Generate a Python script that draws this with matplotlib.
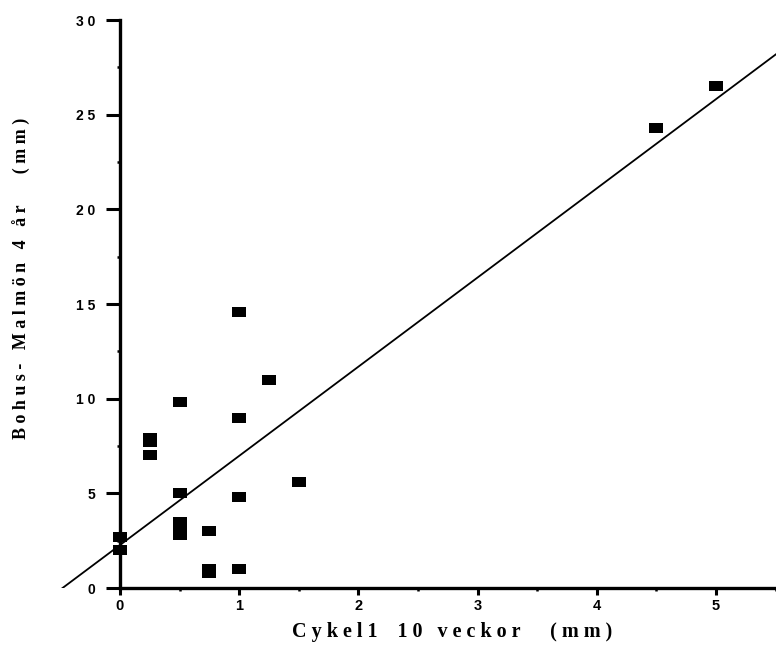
import matplotlib
matplotlib.use("Agg")
import matplotlib.pyplot as plt
import numpy as np
from matplotlib.ticker import FixedLocator

# ---- data ----
cykel_x = [0, 0, 0.25, 0.25, 0.25, 0.5, 0.5, 0.5, 0.5, 0.5, 0.75, 0.75, 0.75,
           1.0, 1.0, 1.0, 1.0, 1.25, 1.5, 4.5, 5.0]
bohus_y = [2.7, 2.0, 7.9, 7.7, 7.0, 9.8, 5.0, 3.5, 3.1, 2.8, 3.0, 1.0, 0.8,
           14.6, 9.0, 4.8, 1.0, 11.0, 5.6, 24.3, 26.5]
reg_slope = 4.71
reg_intercept = 2.27
x_ticks = [0, 1, 2, 3, 4, 5]
x_ticklabels = ["0", "1", "2", "3", "4", "5"]
x_minor = [0.5, 1.5, 2.5, 3.5, 4.5, 5.5]
y_ticks = [0, 5, 10, 15, 20, 25, 30]
y_ticklabels = ["0", "5", "1 0", "1 5", "2 0", "2 5", "3 0"]
y_minor = [2.5, 7.5, 12.5, 17.5, 22.5, 27.5]
x_label = "C y k e l 1    1 0   v e c k o r      ( m m )"
y_label = "B o h u s -   M a l m ö n   4   å r       ( m m )"

fig = plt.figure(figsize=(7.76, 6.48), dpi=100)
ax = fig.add_axes([60.4 / 776, 60 / 648, 715.2 / 776, 568 / 648])
ax.set_xlim(-0.5, 5.5)
ax.set_ylim(0, 30)

# regression line (clipped by axes)
lx = np.array([-1.0, 6.0])
ax.plot(lx, reg_slope * lx + reg_intercept, color="black", lw=1.3, zorder=2)

# rectangular markers
rect = [(-1.4, -1), (1.4, -1), (1.4, 1), (-1.4, 1), (-1.4, -1)]
ax.plot(cykel_x, bohus_y, linestyle="none", marker=rect, markersize=10,
        color="black", markeredgewidth=0, zorder=3, clip_on=False)

# spines
for s in ["top", "right"]:
    ax.spines[s].set_visible(False)
ax.spines["left"].set_position(("data", 0))
ax.spines["left"].set_linewidth(2.4)
ax.spines["bottom"].set_linewidth(2.4)
ax.spines["bottom"].set_bounds(0, 5.5)
ax.spines["left"].set_bounds(0, 30)

ax.set_xticks(x_ticks)
ax.set_xticklabels(x_ticklabels, fontfamily="Liberation Sans", fontweight="bold", fontsize=10.5)
ax.set_yticks(y_ticks)
ax.set_yticklabels(y_ticklabels, fontfamily="Liberation Sans", fontweight="bold", fontsize=10)
ax.xaxis.set_minor_locator(FixedLocator(x_minor))
ax.yaxis.set_minor_locator(FixedLocator(y_minor))
ax.tick_params(axis="x", which="major", direction="out", length=5, width=2.2, pad=3)
ax.tick_params(axis="x", which="minor", direction="out", length=2.5, width=1.8)
ax.tick_params(axis="y", which="major", direction="out", length=10, width=2.2, pad=8)
ax.tick_params(axis="y", which="minor", direction="out", length=2.5, width=1.8)

ax.set_xlabel(x_label, fontfamily="Liberation Serif", fontweight="bold", fontsize=14.5)
ax.xaxis.set_label_coords((452 - 60.4) / 715.2, (16 - 60) / 568)
ax.xaxis.label.set_va("center")
ax.set_ylabel(y_label, fontfamily="Liberation Serif", fontweight="bold", fontsize=13)
ax.yaxis.set_label_coords((22 - 60.4) / 715.2, (648 - 278 - 60) / 568)
ax.yaxis.label.set_va("center")

fig.savefig("out.png", dpi=100)
